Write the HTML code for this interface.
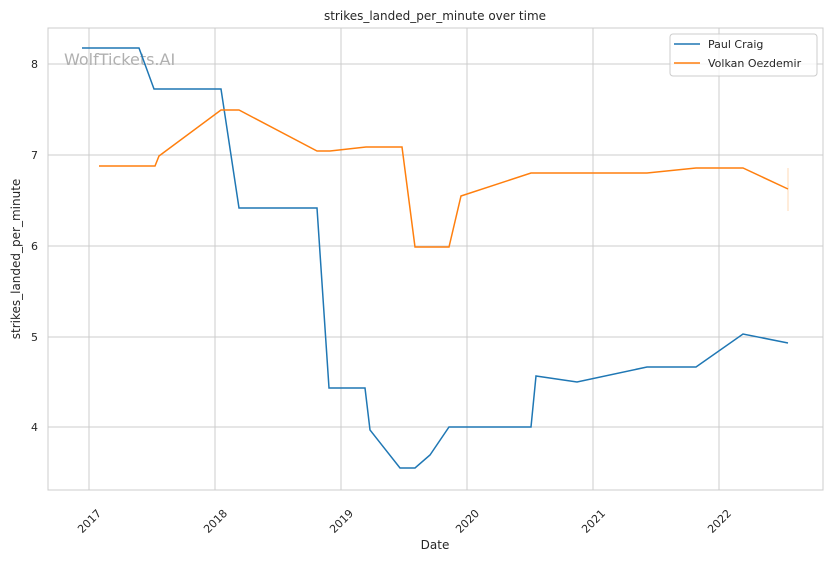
<!DOCTYPE html>
<html><head><meta charset="utf-8"><style>
body{margin:0;background:#fff;}
svg{display:block;font-family:"DejaVu Sans","Liberation Sans",sans-serif;}
</style></head><body>
<svg width="832" height="561" viewBox="0 0 832 561">
<rect width="832" height="561" fill="#fff"/>
<g stroke="#cccccc" stroke-width="1">
<line x1="89" y1="28" x2="89" y2="490"/><line x1="215" y1="28" x2="215" y2="490"/>
<line x1="341" y1="28" x2="341" y2="490"/><line x1="467" y1="28" x2="467" y2="490"/>
<line x1="593" y1="28" x2="593" y2="490"/><line x1="719" y1="28" x2="719" y2="490"/>
<line x1="48" y1="64" x2="823" y2="64"/><line x1="48" y1="155" x2="823" y2="155"/>
<line x1="48" y1="246" x2="823" y2="246"/><line x1="48" y1="337" x2="823" y2="337"/>
<line x1="48" y1="427" x2="823" y2="427"/>
</g>
<rect x="48" y="28" width="775" height="462" fill="none" stroke="#cccccc" stroke-width="1"/>
<text x="64" y="65" font-size="16" fill="#b0b0b0">WolfTickets.AI</text>
<g font-size="11" fill="#262626" text-anchor="end">
<text x="38" y="68">8</text><text x="38" y="159">7</text><text x="38" y="250">6</text>
<text x="38" y="341">5</text><text x="38" y="431">4</text>
</g>
<g font-size="11" fill="#262626" text-anchor="end">
<text transform="translate(102,514) rotate(-45)">2017</text>
<text transform="translate(228,514) rotate(-45)">2018</text>
<text transform="translate(354,514) rotate(-45)">2019</text>
<text transform="translate(480,514) rotate(-45)">2020</text>
<text transform="translate(606,514) rotate(-45)">2021</text>
<text transform="translate(732,514) rotate(-45)">2022</text>
</g>
<text x="435" y="549" font-size="12" fill="#262626" text-anchor="middle">Date</text>
<text transform="translate(20,259) rotate(-90)" font-size="12" fill="#262626" text-anchor="middle">strikes_landed_per_minute</text>
<text x="435" y="20" font-size="12" fill="#262626" text-anchor="middle">strikes_landed_per_minute over time</text>
<line x1="788" y1="168" x2="788" y2="211" stroke="#ff7f0e" stroke-opacity="0.3" stroke-width="1"/>
<polyline fill="none" stroke="#1f77b4" stroke-width="1.5" points="82,48 139,48 154,89 221,89 239,208 317,208 329,388 365,388 370,430 400,468 415,468 430,455 449,427 531,427 536,376 577,382 647,367 696,367 743,334 788,343"/>
<polyline fill="none" stroke="#ff7f0e" stroke-width="1.5" points="99,166 155,166 159,156 221,110 239,110 317,151 330,151 366,147 402,147 415,247 449,247 461,196 531,173 647,173 696,168 743,168 788,189"/>
<rect x="670" y="34" width="147" height="42" rx="3" fill="#fff" fill-opacity="0.8" stroke="#cccccc"/>
<line x1="674" y1="44" x2="700" y2="44" stroke="#1f77b4" stroke-width="1.5"/>
<line x1="674" y1="63" x2="700" y2="63" stroke="#ff7f0e" stroke-width="1.5"/>
<text x="708" y="48" font-size="11" fill="#262626">Paul Craig</text>
<text x="708" y="67" font-size="11" fill="#262626">Volkan Oezdemir</text>
</svg>
</body></html>
